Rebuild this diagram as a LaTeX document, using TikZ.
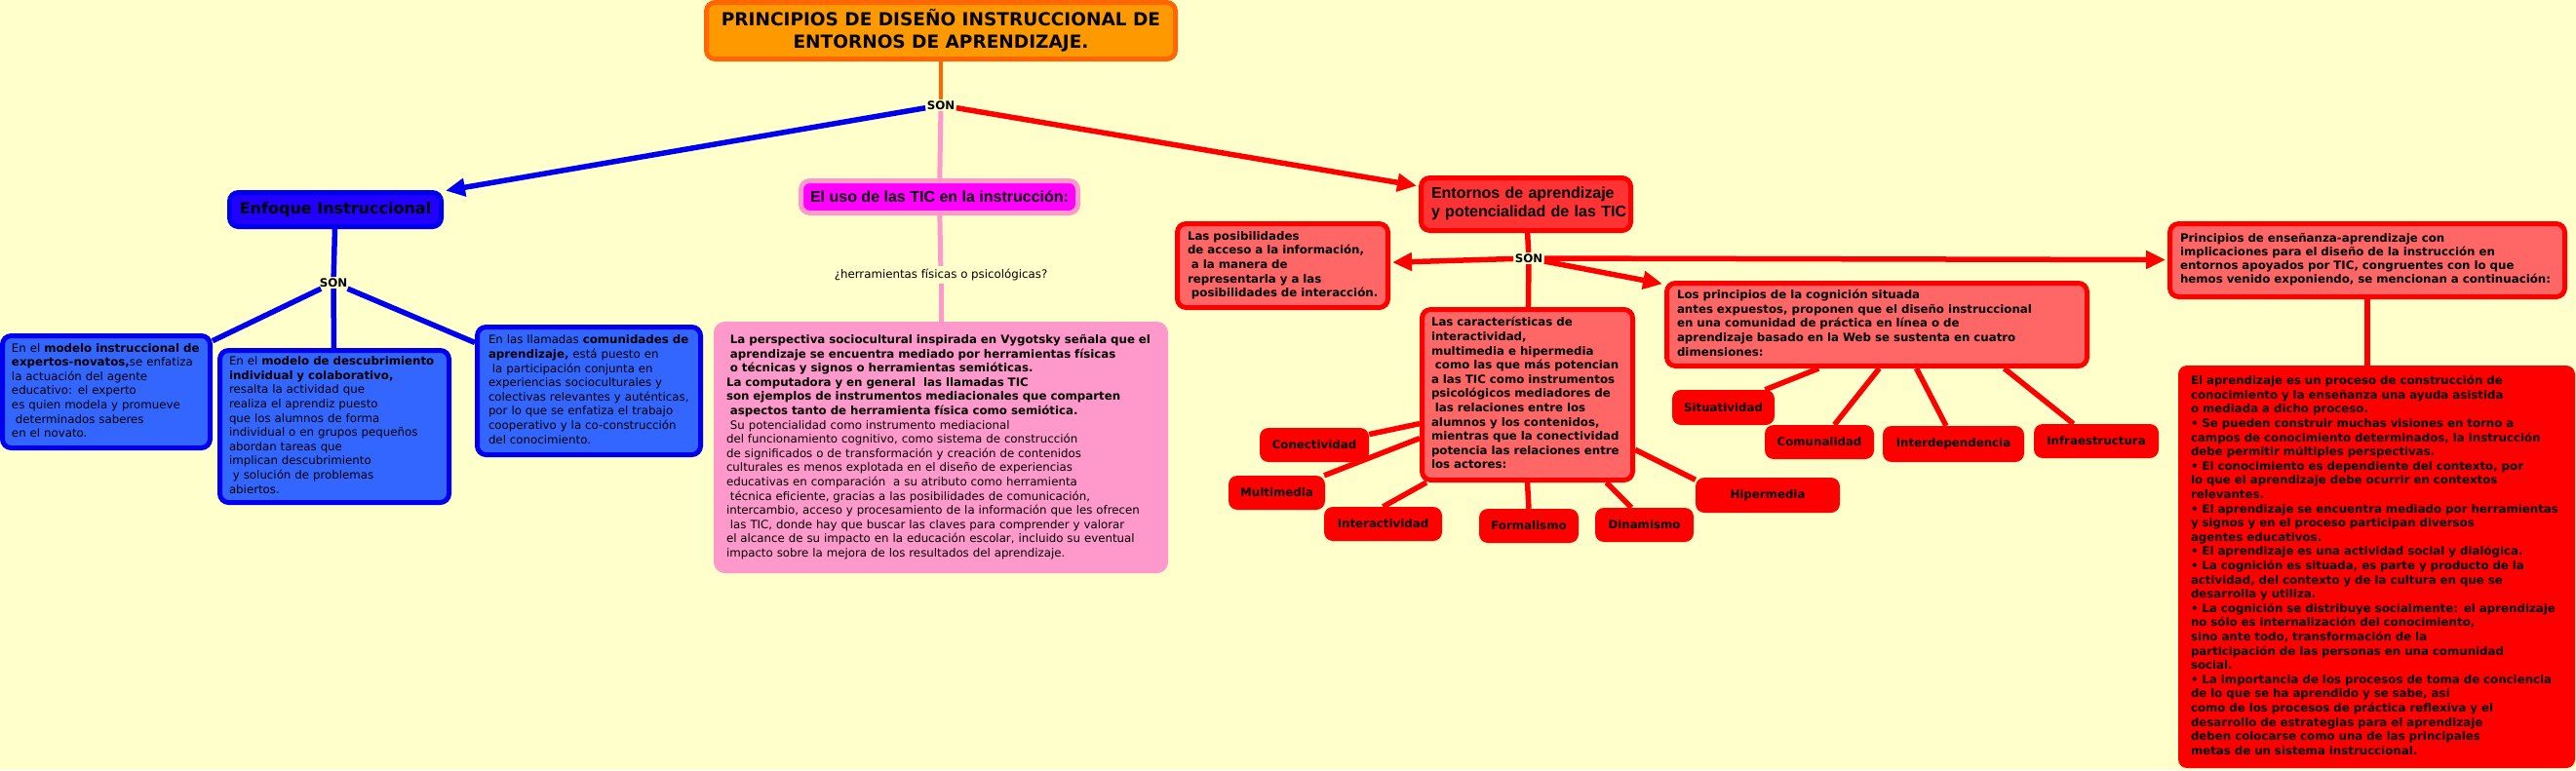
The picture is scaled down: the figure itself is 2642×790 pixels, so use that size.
\documentclass[tikz,border=0pt]{standalone}
\usepackage{fontspec}
\setmainfont{DejaVu Sans}
\newfontfamily\arialf{Liberation Sans}
\usetikzlibrary{arrows.meta}
\definecolor{bg}{HTML}{FFFFCC}
\definecolor{orF}{HTML}{FF9900}
\definecolor{orD}{HTML}{FF6600}
\definecolor{blD}{HTML}{0000EE}
\definecolor{blE}{HTML}{2200FF}
\definecolor{blF}{HTML}{3366FF}
\definecolor{mag}{HTML}{FF00FF}
\definecolor{pk}{HTML}{FF99CC}
\definecolor{rd}{HTML}{FF0000}
\definecolor{rdA}{HTML}{FF3333}
\definecolor{rdB}{HTML}{FF6666}
\newcommand\tlines[1]{\noindent\begin{tabular}{@{}l@{}}#1\end{tabular}}
\tikzset{
  bxtext/.style={font=\fontsize{11.8}{14.6}\selectfont, align=left, inner ysep=2pt},
  bxbold/.style={font=\fontsize{11.8}{14.6}\selectfont\bfseries, align=left, inner ysep=2pt},
  bluebox/.style={draw=blD, fill=blF, line width=5pt, rounded corners=9pt},
  redbox/.style={draw=rd, fill=rdB, line width=5pt, rounded corners=9pt},
  smallred/.style={fill=rd, rounded corners=9pt, inner sep=0pt, font=\fontsize{11.8}{14}\selectfont\bfseries},
  sonlbl/.style={font=\fontsize{11.8}{14}\selectfont\bfseries, inner sep=1.5pt},
  bline/.style={draw=blD, line width=5.5pt},
  rline/.style={draw=rd, line width=5.5pt},
  pline/.style={draw=pk, line width=5pt},
  oline/.style={draw=orD, line width=4.5pt},
  tip/.style={-{Triangle[length=20pt,width=18pt]}, shorten >=2pt},
}
\begin{document}
\begin{tikzpicture}[x=1pt,y=-1pt]
\fill[bg] (0,0) rectangle (2642,790);
\useasboundingbox (0,0) rectangle (2642,790);

% title
\node[draw=orD, fill=orF, line width=5pt, rounded corners=9pt, minimum width=481pt, minimum height=58pt, inner sep=0pt, align=center, font=\fontsize{18.5}{23}\selectfont\bfseries] (title) at (965,31.5) {PRINCIPIOS DE DISEÑO INSTRUCCIONAL DE\\ENTORNOS DE APRENDIZAJE.};

\node[sonlbl] (son1) at (965,108) {SON};

% left branch
\node[draw=blD, fill=blE, line width=5pt, rounded corners=9pt, minimum width=217pt, minimum height=35pt, inner sep=0pt, font=\fontsize{16}{18}\selectfont\bfseries] (enf) at (344,215) {Enfoque Instruccional};
\node[sonlbl] (son2) at (342,290) {SON};

\node[bluebox, bxtext, minimum width=213pt, minimum height=115pt, text width=194pt, inner xsep=9.5pt] (b1) at (109,402) {\tlines{En el \textbf{modelo instruccional de}\\
\textbf{expertos-novatos,}se enfatiza\\
la actuación del agente\\
educativo: el experto\\
es quien modela y promueve\\
\ determinados saberes\\
en el novato.}};

\node[bluebox, bxtext, minimum width=235pt, minimum height=156pt, text width=216pt, inner xsep=9.5pt] (b2) at (343,437.5) {\tlines{En el \textbf{modelo de descubrimiento}\\
\textbf{individual y colaborativo,}\\
resalta la actividad que\\
realiza el aprendiz puesto\\
que los alumnos de forma\\
individual o en grupos pequeños\\
abordan tareas que\\
implican descubrimiento\\
\ y solución de problemas\\
abiertos.}};

\node[bluebox, bxtext, minimum width=229pt, minimum height=131pt, text width=206pt, inner xsep=11.5pt] (b3) at (604,401) {\tlines{En las llamadas \textbf{comunidades de}\\
\textbf{aprendizaje,} está puesto en\\
\ la participación conjunta en\\
experiencias socioculturales y\\
colectivas relevantes y auténticas,\\
por lo que se enfatiza el trabajo\\
cooperativo y la co-construcción\\
del conocimiento.}};

% middle branch
\node[draw=pk, fill=mag, line width=5pt, rounded corners=9pt, minimum width=284pt, minimum height=33pt, inner sep=0pt, font=\arialf\fontsize{16}{18}\selectfont\bfseries] (uso) at (963.5,202) {El uso de las TIC en la instrucción:};
\node[font=\fontsize{11.8}{14}\selectfont, inner sep=3pt] (herr) at (965,282) {¿herramientas físicas o psicológicas?};
\node[draw=pk, fill=pk, line width=5pt, rounded corners=9pt, bxtext, minimum width=461pt, minimum height=253pt, text width=440pt, inner xsep=10.5pt] (body) at (965,459) {\tlines{\textbf{\ La perspectiva sociocultural inspirada en Vygotsky señala que el}\\
\textbf{\ aprendizaje se encuentra mediado por herramientas físicas}\\
\textbf{\ o técnicas y signos o herramientas semióticas.}\\
\textbf{La computadora y en general\ \ las llamadas TIC}\\
\textbf{son ejemplos de instrumentos mediacionales que comparten}\\
\textbf{\ aspectos tanto de herramienta física como semiótica.}\\
\ Su potencialidad como instrumento mediacional\\
del funcionamiento cognitivo, como sistema de construcción\\
de significados o de transformación y creación de contenidos\\
culturales es menos explotada en el diseño de experiencias\\
educativas en comparación\ \ a su atributo como herramienta\\
\ técnica eficiente, gracias a las posibilidades de comunicación,\\
intercambio, acceso y procesamiento de la información que les ofrecen\\
\ las TIC, donde hay que buscar las claves para comprender y valorar\\
el alcance de su impacto en la educación escolar, incluido su eventual\\
impacto sobre la mejora de los resultados del aprendizaje.}};

% right branch
\node[draw=rd, fill=rdA, line width=5pt, rounded corners=9pt, minimum width=215pt, minimum height=54pt, text width=194pt, inner xsep=10.5pt, inner ysep=2pt, align=left, font=\arialf\fontsize{16}{18.5}\selectfont\bfseries] (ent) at (1565,209.5) {\tlines{Entornos de aprendizaje\\y potencialidad de las TIC}};
\node[sonlbl] (son3) at (1568,265) {SON};

\node[redbox, bxbold, minimum width=216pt, minimum height=86pt, text width=195pt, inner xsep=10.5pt] (posib) at (1315.5,272.5) {\tlines{Las posibilidades\\
de acceso a la información,\\
\ a la manera de\\
representarla y a las\\
\ posibilidades de interacción.}};

\node[redbox, bxbold, minimum width=216pt, minimum height=175pt, text width=197pt, inner xsep=9.5pt] (car) at (1566.5,405) {\tlines{Las características de\\
interactividad,\\
multimedia e hipermedia\\
\ como las que más potencian\\
a las TIC como instrumentos\\
psicológicos mediadores de\\
\ las relaciones entre los\\
alumnos y los contenidos,\\
mientras que la conectividad\\
potencia las relaciones entre\\
los actores:}};

\node[redbox, bxbold, minimum width=431pt, minimum height=85pt, text width=410pt, inner xsep=10.5pt] (cog) at (1925,333) {\tlines{Los principios de la cognición situada\\
antes expuestos, proponen que el diseño instruccional\\
en una comunidad de práctica en línea o de\\
aprendizaje basado en la Web se sustenta en cuatro\\
dimensiones:}};

\node[redbox, font=\fontsize{11.8}{14}\selectfont\bfseries, align=left, inner ysep=2pt, minimum width=405pt, minimum height=75pt, text width=384pt, inner xsep=10.5pt] (prin) at (2428,267) {\tlines{Principios de enseñanza-aprendizaje con\\
implicaciones para el diseño de la instrucción en\\
entornos apoyados por TIC, congruentes con lo que\\
hemos venido exponiendo, se mencionan a continuación:}};

\node[fill=rd, rounded corners=9pt, bxbold, minimum width=407pt, minimum height=413pt, text width=381pt, inner xsep=13pt] (big) at (2437.5,581.5) {\tlines{El aprendizaje es un proceso de construcción de\\
conocimiento y la enseñanza una ayuda asistida\\
o mediada a dicho proceso.\\
• Se pueden construir muchas visiones en torno a\\
campos de conocimiento determinados, la instrucción\\
debe permitir múltiples perspectivas.\\
• El conocimiento es dependiente del contexto, por\\
lo que el aprendizaje debe ocurrir en contextos\\
relevantes.\\
• El aprendizaje se encuentra mediado por herramientas\\
y signos y en el proceso participan diversos\\
agentes educativos.\\
• El aprendizaje es una actividad social y dialógica.\\
• La cognición es situada, es parte y producto de la\\
actividad, del contexto y de la cultura en que se\\
desarrolla y utiliza.\\
• La cognición se distribuye socialmente: el aprendizaje\\
no sólo es internalización del conocimiento,\\
sino ante todo, transformación de la\\
participación de las personas en una comunidad\\
social.\\
• La importancia de los procesos de toma de conciencia\\
de lo que se ha aprendido y se sabe, así\\
como de los procesos de práctica reflexiva y el\\
desarrollo de estrategias para el aprendizaje\\
deben colocarse como una de las principales\\
metas de un sistema instruccional.}};

% small red boxes
\node[smallred, minimum width=112pt, minimum height=35pt] (con) at (1348,456.5) {Conectividad};
\node[smallred, minimum width=99pt, minimum height=35pt] (mul) at (1309.5,505.5) {Multimedia};
\node[smallred, minimum width=121pt, minimum height=35pt] (int) at (1418.5,537.5) {Interactividad};
\node[smallred, minimum width=102pt, minimum height=35pt] (for) at (1568,539.5) {Formalismo};
\node[smallred, minimum width=101pt, minimum height=35pt] (din) at (1686.5,538.5) {Dinamismo};
\node[smallred, minimum width=148pt, minimum height=36pt] (hip) at (1813,508) {Hipermedia};
\node[smallred, minimum width=105pt, minimum height=36pt] (sit) at (1767.5,418) {Situatividad};
\node[smallred, minimum width=112pt, minimum height=35pt] (com) at (1866,453.5) {Comunalidad};
\node[smallred, minimum width=145pt, minimum height=37pt] (intd) at (2003.5,455.5) {Interdependencia};
\node[smallred, minimum width=128pt, minimum height=35pt] (inf) at (2150,452.5) {Infraestructura};

% connectors
\draw[oline] (title) -- (son1);
\draw[bline, tip] (son1) -- (enf);
\draw[pline] (son1) -- (uso);
\draw[rline, tip] (son1) -- (ent);

\draw[bline] (enf) -- (son2);
\draw[bline] (son2) -- (b1);
\draw[bline] (son2) -- (b2);
\draw[bline] (son2) -- (b3);

\draw[pline] (uso) -- (herr);
\draw[pline] (herr) -- (body);

\draw[rline] (ent) -- (son3);
\draw[rline] (son3) -- (car);
\draw[rline, tip] (son3) -- (posib);
\draw[rline, tip] (son3) -- (prin);
\draw[rline, tip] (son3) -- (cog);
\draw[rline] (prin.south) -- (prin.south |- big.north);

\draw[rline] (car.-165.9) -- (con.11.8);
\draw[rline] (car.-158) -- (mul.20);
\draw[rline] (car.-139.3) -- (int.north);
\draw[rline] (car.south) -- (for.north);
\draw[rline] (car.-48.2) -- (din.127);
\draw[rline] (car.-27.3) -- (hip.168);

\draw[rline] (cog.-143.7) -- (sit.23);
\draw[rline] (cog.-87.6) -- (com.49);
\draw[rline] (cog.-48.9) -- (intd.112);
\draw[rline] (cog.-19.9) -- (inf.143.6);
\end{tikzpicture}
\end{document}
